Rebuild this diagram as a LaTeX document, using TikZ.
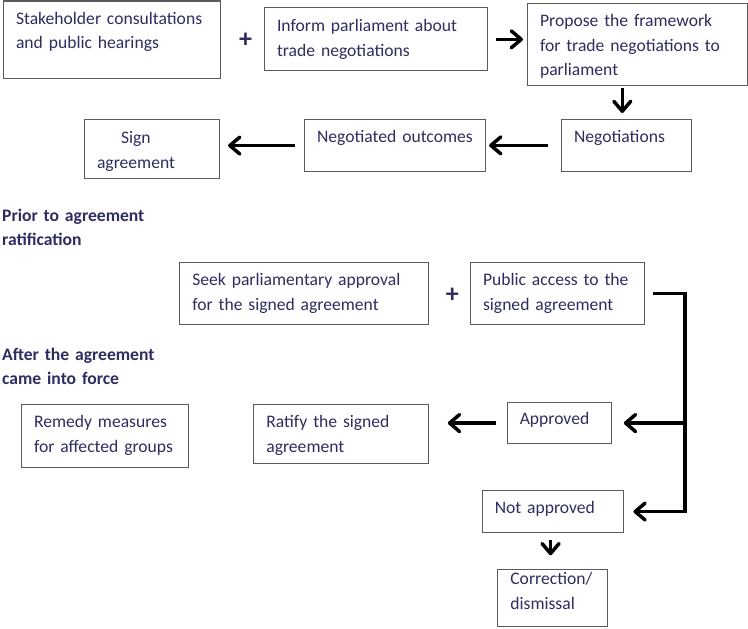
\documentclass[tikz,border=0pt]{standalone}
\usepackage{fontspec}
\setmainfont{Carlito}
\usetikzlibrary{arrows.meta}
\definecolor{text_navy}{HTML}{2E2C61}
\definecolor{box_gray}{HTML}{5A5A5A}

\begin{document}
\begin{tikzpicture}[x=1pt,y=-1pt,line join=miter,
  box/.style n args={3}{draw=box_gray,line width=1.1pt,anchor=north west,
    align=left,inner xsep=12.5pt,inner ysep=0pt,text=text_navy,
    font=\fontsize{17.6}{24.5}\selectfont,
    text width=#1,text height=#2,text depth=#3},
  heading/.style={anchor=base west,align=left,inner sep=0pt,text width=220pt,
    text=text_navy,font=\fontsize{17.6}{24.5}\selectfont\bfseries},
  plus/.style={text=text_navy,inner sep=0pt,font=\fontsize{26}{26}\selectfont\bfseries},
  arr/.style={line width=3.5pt,-{Straight Barb[length=10pt,width=17pt,line width=3.5pt,round]}}]

\useasboundingbox (0,0) rectangle (748,629);

%-----------------------------------------------
% Negotiation phase
%-----------------------------------------------
\node[box={192pt}{23pt}{54pt}] (stake) at (3,0.5) {Stakeholder consultations\\and public hearings};
\node[plus] (plusA) at (245.7,40) {+};
\node[box={198pt}{24pt}{39pt}] (inform) at (264,7.3) {Inform parliament about\\trade negotiations};
\node[box={195pt}{23pt}{59pt}] (propose) at (527,3) {Propose the framework\\for trade negotiations to\\parliament};

\node[box={104.5pt}{22.7pt}{29pt}] (neg) at (561,119) {Negotiations};
\node[box={156pt}{23pt}{28.4pt}] (outcome) at (304,119.3) {Negotiated outcomes};
\node[box={110pt}{24pt}{34.7pt}] (sign) at (84,119) {\hspace*{24pt}Sign\\agreement};

\draw[arr] ([xshift=8pt]inform.east) -- ([xshift=-4pt]inform.east -| propose.west);
\draw[arr] ([xshift=-4pt,yshift=-2pt]propose.south -| neg.north) -- ([xshift=-4pt,yshift=6pt]neg.north);
\draw[arr] ([xshift=-13pt]neg.west) -- ([xshift=3pt]neg.west -| outcome.east);
\draw[arr] ([xshift=-9pt]outcome.west) -- ([xshift=8pt]outcome.west -| sign.east);

%-----------------------------------------------
% Ratification phase
%-----------------------------------------------
\node[heading] (prior) at (2,221) {Prior to agreement\\ratification};

\node[box={223.4pt}{23.3pt}{39.3pt}] (seek) at (179.3,261.7) {Seek parliamentary approval\\for the signed agreement};
\node[plus] (plusB) at (452.3,295) {+};
\node[box={149pt}{23.3pt}{39.3pt}] (public) at (470,261.7) {Public access to the\\signed agreement};

\node[heading] (after) at (2,360) {After the agreement\\came into force};

\node[box={141.7pt}{23.3pt}{40pt}] (remedy) at (21,404) {Remedy measures\\for affected groups};
\node[box={149.4pt}{23.3pt}{36pt}] (ratify) at (253.3,404) {Ratify the signed\\agreement};
\node[box={79pt}{22.3pt}{19.3pt}] (approved) at (506.7,401.7) {Approved};
\node[box={116.6pt}{23pt}{18.4pt}] (notappr) at (481.7,490.3) {Not approved};
\node[box={84.4pt}{15pt}{41.7pt}] (correct) at (497.3,569.3) {Correction/\\dismissal};

% vertical bus right of the vote boxes
\coordinate (bus) at (685,0);
\draw[arr] ([xshift=8pt]public.east) -| (bus |- notappr.east) -- ([xshift=9pt]notappr.east);
\draw[arr] (bus |- approved.east) -- ([xshift=12pt]approved.east);

\draw[arr] ([xshift=-10.7pt]approved.west) -- ([xshift=19pt]ratify.east |- approved.west);
\draw[arr] ([xshift=-2.5pt,yshift=-7pt]notappr.south) -- ([xshift=-2.5pt,yshift=14pt]notappr.south |- correct.north);

\end{tikzpicture}
\end{document}
